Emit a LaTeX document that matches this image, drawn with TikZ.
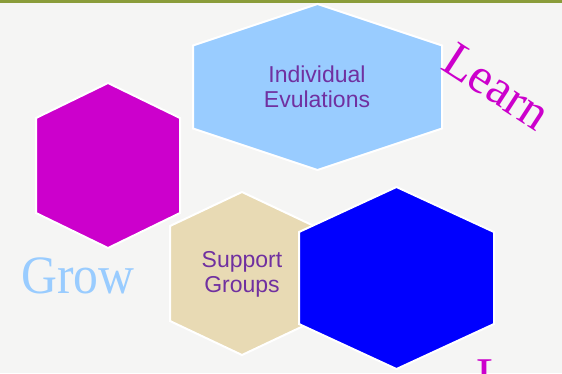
\documentclass[tikz,border=0pt]{standalone}
\usepackage{fontspec}
\setmainfont{Liberation Serif}
\setsansfont{Liberation Sans}
\usetikzlibrary{positioning}
\definecolor{hexmagenta}{RGB}{204,0,204}
\definecolor{hexsky}{RGB}{153,204,255}
\definecolor{hextan}{RGB}{232,218,180}
\definecolor{hexblue}{RGB}{0,0,255}
\definecolor{labelpurple}{RGB}{112,48,160}
\definecolor{barolive}{RGB}{138,156,58}
\definecolor{paper}{RGB}{245,245,244}
\tikzset{
  cell/.style={fill=#1,draw=white,line width=2pt},
  celltext/.style={labelpurple,align=center,inner sep=0pt,
    font=\sffamily\fontsize{23}{25}\selectfont},
  bigword/.style={#1,inner sep=0pt,font=\fontsize{50}{50}\selectfont}
}

\begin{document}
\begin{tikzpicture}[x=1pt,y=-1pt]
  % page and olive rule on top
  \fill[paper] (0,0) rectangle (562,373);
  \clip (0,0) rectangle (562,373);
  \fill[barolive] (0,0) rectangle (562,3);
  % hexagons: colour / centre x / centre y / half width / half height / half side
  \foreach \c/\x/\y/\w/\h/\s in {
      hexmagenta/108/165.5/72/82.5/47.5,
      hexsky/317.5/87/124.5/83/41.5,
      hextan/242/273.5/72/81.5/47.5,
      hexblue/396.5/278/97.5/91/46}{
    \filldraw[cell=\c] (\x,\y-\h) -- (\x+\w,\y-\s) -- (\x+\w,\y+\s)
      -- (\x,\y+\h) -- (\x-\w,\y+\s) -- (\x-\w,\y-\s) -- cycle;
  }
  \node[celltext] (evals) at (317,87) {Individual\\Evulations};
  \node[celltext] (support) at (242,274) {Support\\Groups};
  % the big serif words
  \node[bigword=hexmagenta,rotate=-33,anchor=base] (learn) at (488,100) {Learn};
  \node[bigword=hexsky,xscale=0.92,font=\fontsize{54}{54}\selectfont,anchor=base] (grow) at (78,293) {Grow};
  \node[bigword=hexmagenta,anchor=base west] (lead) at (476,392) {L};
\end{tikzpicture}
\end{document}
